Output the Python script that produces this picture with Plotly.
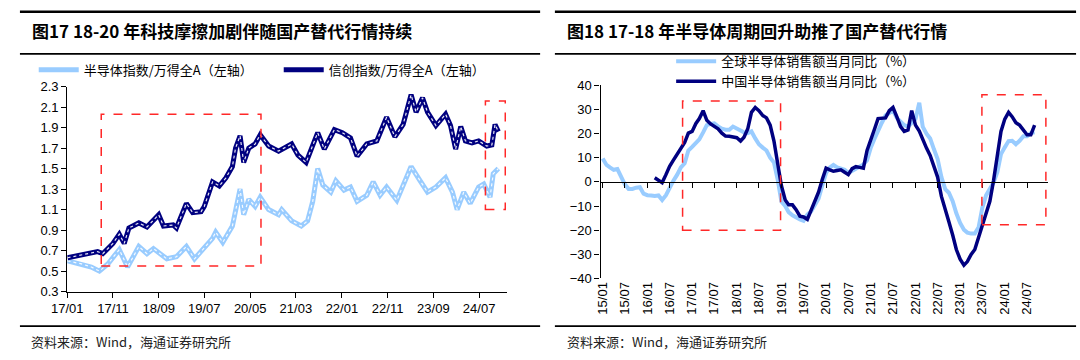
import plotly.graph_objects as go
import pandas as pd

# ---------------- Left chart data ----------------
semi_dates = ["2017-01-03","2017-04-06","2017-06-10","2017-08-03","2017-09-28","2017-12-13","2018-02-06",
              "2018-04-22","2018-06-15","2018-07-28","2018-10-25","2018-12-28","2019-03-04","2019-04-27",
              "2019-06-21","2019-08-25","2019-09-15","2019-11-01","2020-01-04","2020-02-24","2020-03-19",
              "2020-04-22","2020-06-03","2020-07-07","2020-09-01","2020-11-06","2020-11-27","2021-02-01",
              "2021-04-06","2021-05-18","2021-06-21","2021-07-24","2021-08-27","2021-10-19","2021-11-22",
              "2022-01-15","2022-02-27","2022-04-12","2022-06-15","2022-07-28","2022-09-12","2022-10-25",
              "2023-01-01","2023-02-24","2023-04-06","2023-06-01","2023-07-24","2023-09-18","2023-11-21",
              "2024-01-06","2024-02-06","2024-03-21","2024-05-03","2024-06-28","2024-08-01","2024-09-12",
              "2024-10-03","2024-11-06"]
semi_vals = [0.60,0.57,0.54,0.50,0.57,0.71,0.54,
             0.74,0.67,0.72,0.62,0.64,0.74,0.62,
             0.71,0.82,0.88,0.78,0.94,1.30,1.05,
             1.20,1.13,1.22,1.10,1.05,1.10,0.99,
             0.94,0.99,1.18,1.50,1.34,1.27,1.38,
             1.29,1.32,1.18,1.24,1.37,1.24,1.32,
             1.19,1.37,1.52,1.39,1.27,1.32,1.41,
             1.27,1.10,1.27,1.16,1.32,1.35,1.22,
             1.45,1.50]

xc_dates = ["2017-01-03","2017-04-06","2017-07-22","2017-08-25","2017-11-01","2017-12-13","2018-01-15",
            "2018-02-15","2018-04-22","2018-06-15","2018-09-01","2018-10-03","2018-12-06","2018-12-28",
            "2019-03-04","2019-04-15","2019-06-10","2019-07-01","2019-08-25","2019-10-09","2019-11-22",
            "2020-01-04","2020-01-25","2020-02-24","2020-03-19","2020-04-22","2020-06-03","2020-07-07",
            "2020-09-01","2020-11-06","2021-02-01","2021-03-15","2021-05-08","2021-07-24","2021-09-06",
            "2021-11-12","2022-01-04","2022-02-27","2022-04-12","2022-06-15","2022-08-21","2022-10-25",
            "2022-12-19","2023-02-12","2023-04-06","2023-05-09","2023-06-21","2023-07-24","2023-09-18",
            "2023-11-21","2023-12-24","2024-01-27","2024-03-01","2024-04-01","2024-05-15","2024-06-28",
            "2024-08-21","2024-09-24","2024-10-15","2024-11-06"]
xc_vals = [0.63,0.66,0.69,0.67,0.77,0.86,0.77,
           0.92,0.97,0.93,1.05,0.94,0.95,0.92,
           1.16,1.07,1.08,1.13,1.37,1.33,1.41,
           1.52,1.70,1.82,1.56,1.70,1.74,1.83,
           1.72,1.67,1.74,1.63,1.56,1.85,1.69,
           1.88,1.85,1.80,1.62,1.74,1.77,2.00,
           1.81,1.93,2.22,2.05,2.19,2.05,1.92,
           2.03,1.92,1.69,1.91,1.77,1.75,1.77,
           1.72,1.73,1.93,1.86]

left_tick_vals = ["2017-01-01","2017-11-01","2018-09-01","2019-07-01","2020-05-01",
                  "2021-03-01","2022-01-01","2022-11-01","2023-09-01","2024-07-01"]
left_tick_text = ["17/01","17/11","18/09","19/07","20/05","21/03","22/01","22/11","23/09","24/07"]

# highlight boxes (data coordinates)
left_box1 = dict(x0="2017-08-15", x1="2020-07-12", y0=0.55, y1=2.03)
left_box2 = dict(x0="2024-08-12", x1="2024-12-22", y0=1.10, y1=2.16)

# ---------------- Right chart data ----------------
global_start = "2015-01-01"
global_yoy = [9.7,7.0,6.0,5.0,5.3,2.0,-1.0,-2.9,-2.9,-2.4,
              -2.2,-4.9,-5.5,-5.6,-5.8,-5.6,-7.5,-5.5,-2.2,0.5,
              3.0,6.0,7.7,13.0,14.5,16.0,17.6,20.5,23.5,24.0,
              24.2,23.0,22.0,21.6,21.6,22.9,22.0,20.9,20.5,20.2,
              20.9,18.0,15.6,14.2,13.0,10.0,8.0,1.1,-8.2,-10.0,
              -12.5,-13.8,-14.8,-15.5,-16.1,-13.5,-12.2,-9.5,-6.9,-1.5,
              3.7,6.0,7.0,6.0,5.7,5.0,3.7,4.5,5.7,6.5,
              7.2,9.0,14.3,18.0,21.6,24.5,27.5,28.5,29.5,26.5,
              24.9,23.5,22.9,24.5,26.0,32.8,22.9,20.0,18.0,13.5,
              9.5,2.0,-3.0,-4.5,-8.0,-13.0,-17.0,-19.8,-21.0,-21.4,
              -21.4,-18.8,-10.8,-5.6,-3.0,-0.3,4.0,11.5,14.3,16.9,
              17.0,15.6,17.0,18.9,18.9,20.2,20.5]

china_start = "2016-03-01"
china_yoy = [1.7,0.5,-0.3,3.0,6.5,9.0,
             11.5,13.6,16.3,20.2,20.9,24.2,26.2,29.5,25.5,24.0,
             23.0,22.0,20.2,19.0,18.9,18.5,18.3,16.9,18.5,22.0,
             28.8,30.8,29.5,27.5,26.5,23.5,16.9,7.7,-1.6,-7.5,
             -9.5,-9.5,-11.5,-14.2,-14.5,-15.5,-11.5,-8.0,-4.2,1.0,
             5.7,5.0,4.4,4.7,5.0,4.0,3.0,5.5,6.3,6.0,
             5.7,13.0,18.0,22.0,26.2,26.2,26.5,29.5,30.8,27.0,
             22.9,20.9,21.5,29.5,23.5,21.0,17.5,14.0,11.0,6.0,
             2.0,-6.0,-12.0,-16.5,-22.0,-28.0,-32.0,-34.5,-33.0,-30.0,
             -28.0,-23.0,-17.5,-12.5,-8.0,0.5,12.0,20.9,26.0,28.8,
             27.0,24.5,23.5,21.5,19.5,19.5,23.5]

global_months = pd.date_range(global_start, periods=len(global_yoy), freq="MS")
china_months = pd.date_range(china_start, periods=len(china_yoy), freq="MS")

right_tick_vals = [f"20{y:02d}-{m:02d}-01" for y in range(15, 25) for m in (1, 7)]
right_tick_text = [f"{y:02d}/{m:02d}" for y in range(15, 25) for m in (1, 7)]

right_box1 = dict(x0="2016-10-15", x1="2018-12-25", y0=-20, y1=33.5)
right_box2 = dict(x0="2023-06-28", x1="2024-12-02", y0=-17.7, y1=36.1)

# ---------------- Styles ----------------
LIGHT = "rgb(153,204,255)"
DARK = "rgb(0,0,128)"
RED = "rgb(255,40,40)"
CJK = "Noto Sans CJK SC"
LAT = "Liberation Sans, Arial"

fig = go.Figure()

# Left chart traces
fig.add_trace(go.Scatter(x=semi_dates, y=semi_vals, mode="lines", name="半导体指数/万得全A（左轴）",
                         line=dict(color=LIGHT, width=5), xaxis="x", yaxis="y", legend="legend"))
fig.add_trace(go.Scatter(x=semi_dates, y=semi_vals, mode="lines", showlegend=False, hoverinfo="skip",
                         line=dict(color="rgba(255,255,255,0.9)", width=1.2, dash="dot"), xaxis="x", yaxis="y"))
fig.add_trace(go.Scatter(x=xc_dates, y=xc_vals, mode="lines", name="信创指数/万得全A（左轴）",
                         line=dict(color=DARK, width=5), xaxis="x", yaxis="y", legend="legend"))
fig.add_trace(go.Scatter(x=xc_dates, y=xc_vals, mode="lines", showlegend=False, hoverinfo="skip",
                         line=dict(color="rgba(255,255,255,0.9)", width=1.2, dash="dot"), xaxis="x", yaxis="y"))

# Right chart traces
fig.add_trace(go.Scatter(x=global_months, y=global_yoy, mode="lines", name="全球半导体销售额当月同比（%）",
                         line=dict(color=LIGHT, width=4), xaxis="x2", yaxis="y2", legend="legend2"))
fig.add_trace(go.Scatter(x=china_months, y=china_yoy, mode="lines", name="中国半导体销售额当月同比（%）",
                         line=dict(color=DARK, width=3.5), xaxis="x2", yaxis="y2", legend="legend2"))
# empty trace to host the zero-crossing axis
fig.add_trace(go.Scatter(x=[], y=[], xaxis="x3", yaxis="y2", showlegend=False))

shapes = []
for b in (left_box1, left_box2):
    shapes.append(dict(type="rect", xref="x", yref="y", **b, line=dict(color=RED, width=1.5, dash="dash")))
for b in (right_box1, right_box2):
    shapes.append(dict(type="rect", xref="x2", yref="y2", **b, line=dict(color=RED, width=1.5, dash="dash")))

# title rules and bottom rules (paper coordinates)
def hline(x0, x1, ypx, w):
    return dict(type="line", xref="paper", yref="paper", x0=x0 / 1080, x1=x1 / 1080,
                y0=1 - ypx / 360, y1=1 - ypx / 360, line=dict(color="black", width=w))

for (a, b) in ((4, 532), (547, 1076)):
    shapes += [hline(a, b, 5, 2.5), hline(a, b, 49, 1.8), hline(a, b, 333, 1.8)]

annotations = [
    dict(text="<b>图17 18-20 年科技摩擦加剧伴随国产替代行情持续</b>", x=14 / 1080, y=1 - 25 / 360,
         xref="paper", yref="paper", xanchor="left", yanchor="middle", showarrow=False,
         font=dict(family=CJK, size=17, color="black")),
    dict(text="<b>图18 17-18 年半导体周期回升助推了国产替代行情</b>", x=557 / 1080, y=1 - 25 / 360,
         xref="paper", yref="paper", xanchor="left", yanchor="middle", showarrow=False,
         font=dict(family=CJK, size=17, color="black")),
    dict(text="资料来源：Wind，海通证券研究所", x=13 / 1080, y=1 - 349 / 360,
         xref="paper", yref="paper", xanchor="left", yanchor="middle", showarrow=False,
         font=dict(family=CJK, size=13, color="#222")),
    dict(text="资料来源：Wind，海通证券研究所", x=557 / 1080, y=1 - 349 / 360,
         xref="paper", yref="paper", xanchor="left", yanchor="middle", showarrow=False,
         font=dict(family=CJK, size=13, color="#222")),
]

axis_common = dict(showgrid=False, zeroline=False, linecolor="black", linewidth=1.2,
                   ticks="outside", tickcolor="black", ticklen=5, tickwidth=1.2,
                   tickfont=dict(family=LAT, size=13, color="black"))

fig.update_layout(
    width=1080, height=360, margin=dict(l=0, r=0, t=0, b=0),
    paper_bgcolor="white", plot_bgcolor="white",
    shapes=shapes, annotations=annotations,
    xaxis=dict(**axis_common, type="date", domain=[52 / 1080, 498 / 1080], anchor="y",
               range=["2017-01-01", "2024-12-31"], tickvals=left_tick_vals, ticktext=left_tick_text,
               showline=True),
    yaxis=dict(**axis_common, domain=[1 - 297 / 360, 1 - 83 / 360], anchor="x",
               range=[0.3, 2.3], dtick=0.2, tick0=0.3, tickformat=".1f", showline=True),
    xaxis2=dict(showgrid=False, zeroline=False, type="date", domain=[593.3 / 1080, 1047.6 / 1080],
                anchor="y2", range=["2014-12-14", "2024-12-20"], tickvals=right_tick_vals,
                ticktext=right_tick_text, tickangle=-90, showline=False, ticks="",
                tickfont=dict(family=LAT, size=13, color="black")),
    xaxis3=dict(showgrid=False, zeroline=False, type="date", overlaying="x2", anchor="free",
                position=1 - 182.7 / 360, range=["2014-12-14", "2024-12-20"], tickvals=right_tick_vals,
                showticklabels=False, showline=True, linecolor="black", linewidth=1.2,
                ticks="outside", ticklen=5, tickcolor="black", tickwidth=1.2),
    yaxis2=dict(**axis_common, domain=[1 - 283.3 / 360, 1 - 81.7 / 360], anchor="x2",
                range=[-40, 40], dtick=10, showline=True),
    legend=dict(orientation="h", x=18 / 1080, y=1 - 50 / 360, xanchor="left", yanchor="top",
                entrywidth=190, entrywidthmode="pixels", bgcolor="rgba(0,0,0,0)",
                font=dict(family=CJK, size=13, color="black"), itemwidth=40),
    legend2=dict(orientation="v", x=665 / 1080, y=1 - 41 / 360, xanchor="left", yanchor="top",
                 bgcolor="rgba(0,0,0,0)", tracegroupgap=0,
                 font=dict(family=CJK, size=13, color="black"), itemwidth=40),
)

fig.write_html("out.html", config={"displayModeBar": False},
               post_script="document.body.style.margin='0';document.body.style.overflow='hidden';")
